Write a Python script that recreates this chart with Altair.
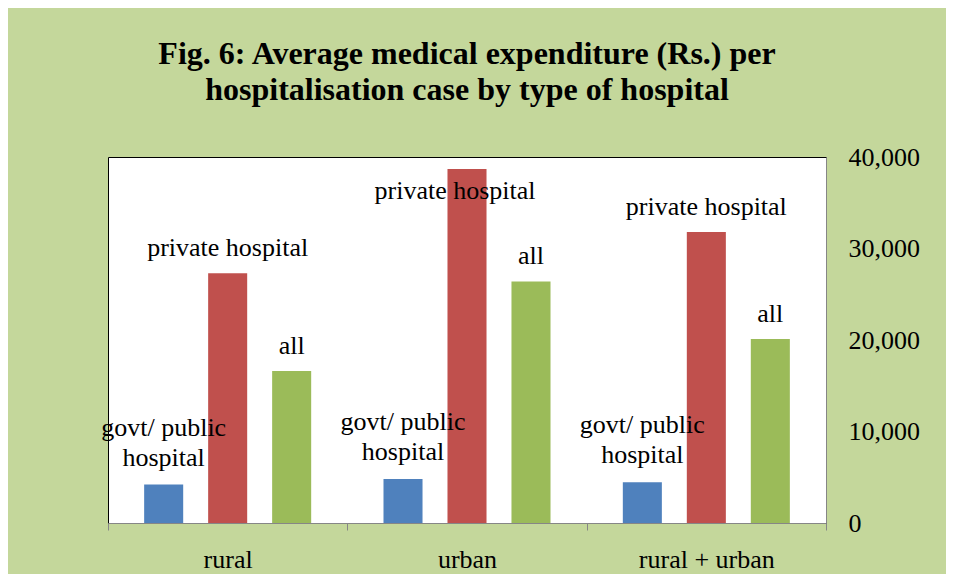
import altair as alt
import pandas as pd

areas = ["rural", "urban", "rural + urban"]
hospital_types = ["govt/ public hospital", "private hospital", "all"]
label_text = ["govt/ public\nhospital", "private hospital", "all"]
govt_values = [4200, 4800, 4450]
private_values = [27300, 38700, 31800]
all_values = [16600, 26400, 20100]
bar_colors = ["#4f81bd", "#c0504d", "#9bbb59"]
y_ticks = [0, 10000, 20000, 30000, 40000]

rows = []
for i, a in enumerate(areas):
    for j, vals in enumerate([govt_values, private_values, all_values]):
        rows.append({"area": a, "type": hospital_types[j], "label": label_text[j], "value": vals[i]})
df = pd.DataFrame(rows)

FONT = "Liberation Serif"

x_enc = alt.X(
    "area:N", sort=areas,
    scale=alt.Scale(paddingInner=0, paddingOuter=0),
    axis=alt.Axis(title=None, labelAngle=0, tickBand="extent", tickSize=7,
                  tickColor="#868686", domainColor="#868686", labelFont=FONT,
                  labelFontSize=26, labelColor="black", labelPadding=16),
)
xoff_enc = alt.XOffset("type:N", sort=hospital_types,
                       scale=alt.Scale(paddingInner=0.39, paddingOuter=0.565))
y_enc = alt.Y(
    "value:Q", scale=alt.Scale(domain=[0, 40000]),
    axis=alt.Axis(title=None, orient="right", values=y_ticks, format=",.0f", grid=False,
                  ticks=False, tickSize=0, domainColor="#868686", labelFont=FONT,
                  labelFontSize=26, labelColor="black", labelPadding=22),
)
color_enc = alt.Color("type:N", sort=hospital_types,
                      scale=alt.Scale(domain=hospital_types, range=bar_colors), legend=None)

base = alt.Chart(df)

bars = base.mark_bar().encode(x=x_enc, xOffset=xoff_enc, y=y_enc, color=color_enc)

text_style = dict(font=FONT, fontSize=26, color="black", baseline="bottom",
                  align="center", lineBreak="\n", lineHeight=30)

labels_single = base.mark_text(dy=-12, **text_style).encode(
    x=x_enc, xOffset=xoff_enc, y=y_enc, text="label:N"
).transform_filter(
    "datum.type == 'all' || (datum.type == 'private hospital' && datum.area != 'urban')"
)

labels_govt = base.mark_text(dy=-44, **text_style).encode(
    x=x_enc, xOffset=xoff_enc, y=y_enc, text="label:N"
).transform_filter("datum.type == 'govt/ public hospital'")

label_special = base.mark_text(dx=-12, dy=35, **text_style).encode(
    x=x_enc, xOffset=xoff_enc, y=y_enc, text="label:N"
).transform_filter(
    "datum.area == 'urban' && datum.type == 'private hospital'"
)

chart = alt.layer(bars, labels_single, labels_govt, label_special).properties(
    width=718,
    height=366,
    title=alt.TitleParams(
        text=["Fig. 6: Average medical expenditure (Rs.) per",
              "hospitalisation case by type of hospital"],
        font=FONT, fontSize=32, fontWeight="bold", color="black",
        anchor="middle", frame="group", offset=37, lineHeight=36,
    ),
    autosize=alt.AutoSizeParams(type="none"),
    padding={"left": 100, "top": 149, "right": 120, "bottom": 51},
    background="#c4d79b",
).configure_view(
    stroke="black", strokeWidth=1, fill="white"
)

chart.save("out.html", embed_options={"renderer": "svg", "actions": False})
